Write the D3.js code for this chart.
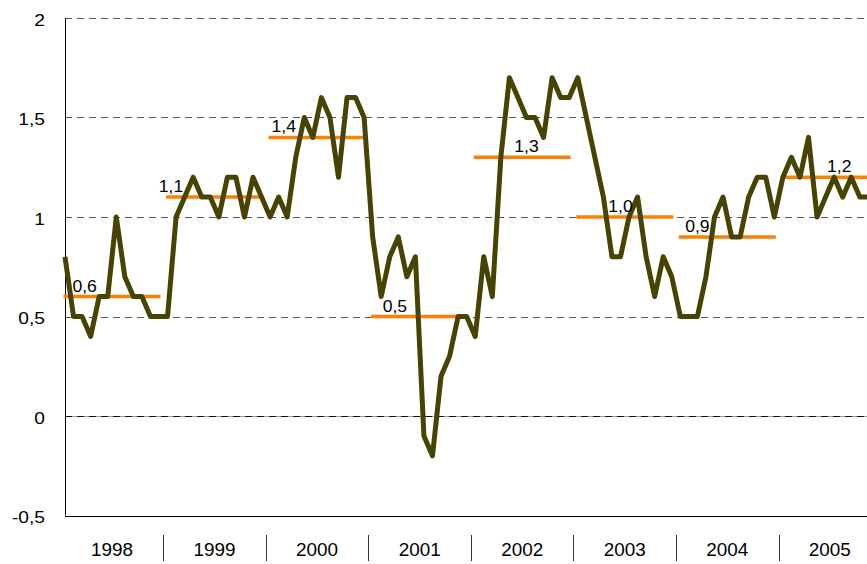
<!doctype html>
<html>
<head>
    <meta charset="UTF-8">
    <title>chart</title>
    <script src="https://d3js.org/d3.v7.min.js"></script>
    <style>
        body{ margin:0; background:#fff; }
        svg text{ font-family: "Liberation Sans", Arial, sans-serif; fill:#000; }
    </style>
</head>
<body>
    <div id="chart"></div>

    <script>
        // data -----------------------------------
        var years = ["1998", "1999", "2000", "2001", "2002", "2003", "2004", "2005"];
        var monthly = [
            0.8, 0.5, 0.5, 0.4, 0.6, 0.6, 1.0, 0.7, 0.6, 0.6, 0.5, 0.5,
            0.5, 1.0, 1.1, 1.2, 1.1, 1.1, 1.0, 1.2, 1.2, 1.0, 1.2, 1.1,
            1.0, 1.1, 1.0, 1.3, 1.5, 1.4, 1.6, 1.5, 1.2, 1.6, 1.6, 1.5,
            0.9, 0.6, 0.8, 0.9, 0.7, 0.8, -0.1, -0.2, 0.2, 0.3, 0.5, 0.5,
            0.4, 0.8, 0.6, 1.3, 1.7, 1.6, 1.5, 1.5, 1.4, 1.7, 1.6, 1.6,
            1.7, 1.5, 1.3, 1.1, 0.8, 0.8, 1.0, 1.1, 0.8, 0.6, 0.8, 0.7,
            0.5, 0.5, 0.5, 0.7, 1.0, 1.1, 0.9, 0.9, 1.1, 1.2, 1.2, 1.0,
            1.2, 1.3, 1.2, 1.4, 1.0, 1.1, 1.2, 1.1, 1.2, 1.1, 1.1
        ];
        var yearAvg = [0.6, 1.1, 1.4, 0.5, 1.3, 1.0, 0.9, 1.2];
        var yearAvgLabels = ["0,6", "1,1", "1,4", "0,5", "1,3", "1,0", "0,9", "1,2"];
        var yTicks = [-0.5, 0, 0.5, 1, 1.5, 2];
        var yTickLabels = ["-0,5", "0", "0,5", "1", "1,5", "2"];

        // where each average label sits inside its year (month offset)
        var labelMonth = [2.3, 0.4, 1.6, 2.6, 6.0, 5.0, 2.0, 6.6];

        var w = 867, h = 564;

        var svg = d3.select("#chart").append("svg")
            .attr("width", w)
            .attr("height", h);

        var x = d3.scaleLinear().domain([0, 95]).range([65, 65 + 95 * 8.546]);
        var y = d3.scaleLinear().domain([-0.5, 2]).range([515.5, 18]);

        // text in the picture is a little wider than the font
        function place(px, py, sx){
            return "translate(" + px + "," + py + ") scale(" + sx + ",1)";
        }

        // gridlines
        svg.selectAll("line.grid")
            .data(yTicks.filter(function(d){ return d > -0.5; }))
            .enter().append("line")
            .attr("class", "grid")
            .attr("x1", x(0)).attr("x2", w)
            .attr("y1", function(d){ return Math.round(y(d)) + 0.5; })
            .attr("y2", function(d){ return Math.round(y(d)) + 0.5; })
            .attr("stroke", "#555")
            .attr("stroke-width", 1)
            .attr("stroke-dasharray", "7,5");

        // zero line: grey base under the dashes
        svg.append("line")
            .attr("x1", x(0)).attr("x2", w)
            .attr("y1", Math.round(y(0)) + 0.5).attr("y2", Math.round(y(0)) + 0.5)
            .attr("stroke", "#999").attr("stroke-width", 1);
        svg.append("line")
            .attr("x1", x(0)).attr("x2", w)
            .attr("y1", Math.round(y(0)) + 0.5).attr("y2", Math.round(y(0)) + 0.5)
            .attr("stroke", "#111").attr("stroke-width", 1)
            .attr("stroke-dasharray", "7,5");

        // axes lines
        svg.append("line")
            .attr("x1", Math.round(x(0)) + 0.5).attr("x2", Math.round(x(0)) + 0.5)
            .attr("y1", y(2)).attr("y2", y(-0.5))
            .attr("stroke", "#000");
        svg.append("line")
            .attr("x1", x(0)).attr("x2", w)
            .attr("y1", Math.round(y(-0.5)) + 0.5).attr("y2", Math.round(y(-0.5)) + 0.5)
            .attr("stroke", "#000");

        // y tick labels
        svg.selectAll("text.ytick")
            .data(yTicks)
            .enter().append("text")
            .attr("class", "ytick")
            .attr("transform", function(d){ return place(45, y(d) + 7.5, 1.2); })
            .attr("text-anchor", "end")
            .style("font-size", "16px")
            .text(function(d, i){ return yTickLabels[i]; });

        // year separators and labels
        svg.selectAll("line.sep")
            .data(years.slice(1))
            .enter().append("line")
            .attr("class", "sep")
            .attr("x1", function(d, i){ return Math.round(x(12 * (i + 1) - 0.5)) + 0.5; })
            .attr("x2", function(d, i){ return Math.round(x(12 * (i + 1) - 0.5)) + 0.5; })
            .attr("y1", 535).attr("y2", 561)
            .attr("stroke", "#333");

        svg.selectAll("text.year")
            .data(years)
            .enter().append("text")
            .attr("class", "year")
            .attr("transform", function(d, i){ return place(x(12 * i + 5.5), 556, 1.05); })
            .attr("text-anchor", "middle")
            .style("font-size", "18px")
            .text(function(d){ return d; });

        // yearly averages
        svg.selectAll("line.avg")
            .data(yearAvg)
            .enter().append("line")
            .attr("class", "avg")
            .attr("x1", function(d, i){ return x(12 * i) - 1.5; })
            .attr("x2", function(d, i){ return x(12 * i + 11) + 1.5; })
            .attr("y1", function(d){ return y(d); })
            .attr("y2", function(d){ return y(d); })
            .attr("stroke", "#ff8000")
            .attr("stroke-width", 3.5);

        // monthly line
        var line = d3.line()
            .x(function(d, i){ return x(i); })
            .y(function(d){ return y(d); });

        svg.append("path")
            .datum(monthly)
            .attr("d", line)
            .attr("fill", "none")
            .attr("stroke", "#474300")
            .attr("stroke-width", 5)
            .attr("stroke-linejoin", "round");

        svg.selectAll("text.avglab")
            .data(yearAvg)
            .enter().append("text")
            .attr("class", "avglab")
            .attr("transform", function(d, i){ return place(x(12 * i + labelMonth[i]), y(d) - 5, 1.1); })
            .attr("text-anchor", "middle")
            .style("font-size", "16px")
            .text(function(d, i){ return yearAvgLabels[i]; });
    </script>
</body>
</html>
